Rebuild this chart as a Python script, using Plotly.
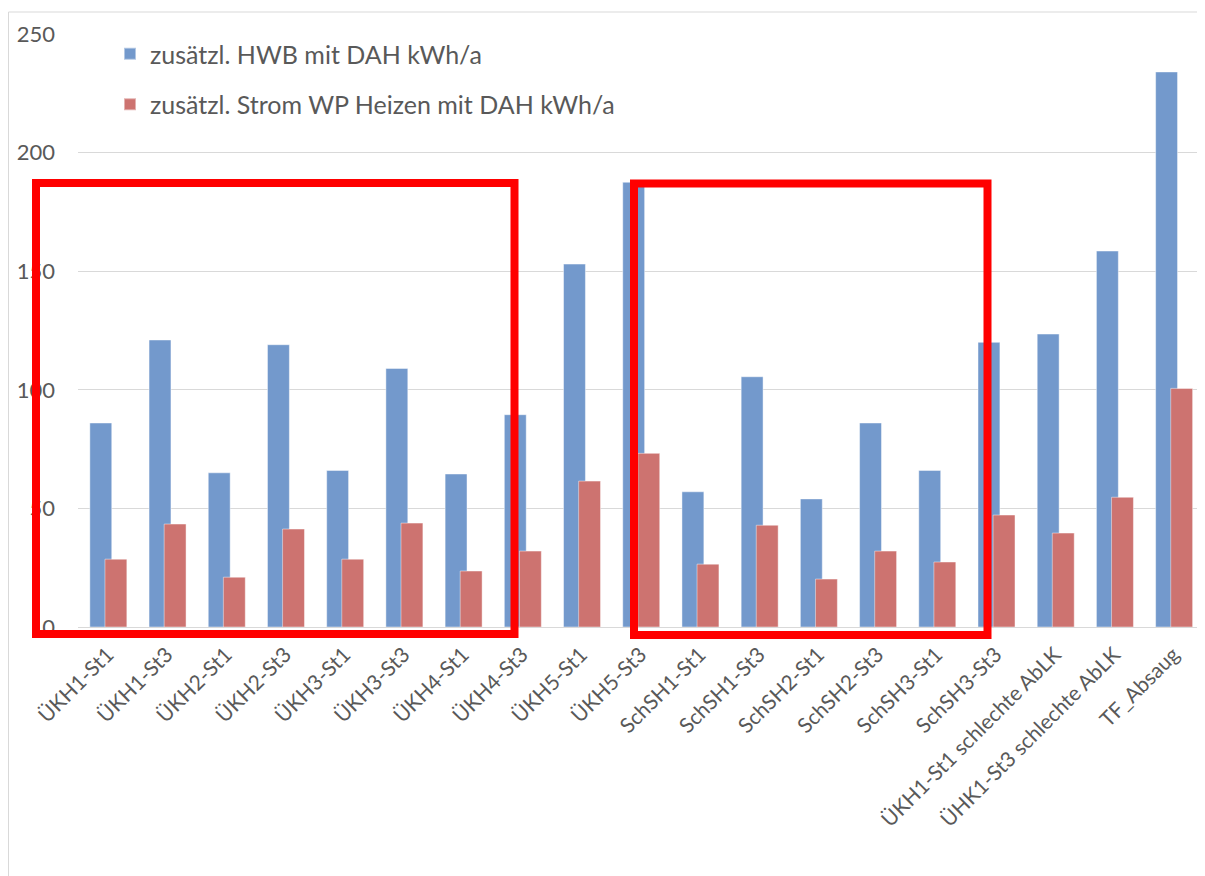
import plotly.graph_objects as go

categories = ["ÜKH1-St1", "ÜKH1-St3", "ÜKH2-St1", "ÜKH2-St3", "ÜKH3-St1", "ÜKH3-St3",
              "ÜKH4-St1", "ÜKH4-St3", "ÜKH5-St1", "ÜKH5-St3", "SchSH1-St1", "SchSH1-St3",
              "SchSH2-St1", "SchSH2-St3", "SchSH3-St1", "SchSH3-St3",
              "ÜKH1-St1 schlechte AbLK", "ÜHK1-St3 schlechte AbLK", "TF_Absaug"]
hwb = [86, 121, 65, 119, 66, 109, 64.5, 89.5, 153, 187.5, 57, 105.5, 54, 86, 66, 120, 123.5, 158.5, 234]
strom = [28.6, 43.4, 21, 41.3, 28.6, 43.8, 23.6, 32, 61.5, 73.2, 26.5, 42.9, 20.2, 32, 27.4, 47.2, 39.6, 54.7, 100.6]

name_hwb = "zusätzl. HWB mit DAH kWh/a"
name_strom = "zusätzl. Strom WP Heizen mit DAH kWh/a"

FONT = "Lato, 'Open Sans', sans-serif"
GREY = "#595959"

fig = go.Figure()
fig.add_trace(go.Bar(x=categories, y=hwb, name=name_hwb, legendgroup="a",
                     marker=dict(color="#7399CC", line=dict(color="rgba(255,255,255,0.45)", width=1)),
                     offset=-0.30, width=0.37))
fig.add_trace(go.Bar(x=categories, y=strom, name=name_strom, legendgroup="b",
                     marker=dict(color="#CD7370", line=dict(color="rgba(255,255,255,0.45)", width=1)),
                     offset=-0.045, width=0.37))

# page body has an 8px margin; size the figure so it ends at the window edge
OFF = 8
W, H = 1205 - OFF, 876 - OFF
ml, mt = 78 - OFF, 34 - OFF
pw, ph = 1125, 593
mr = W - ml - pw
mb = H - mt - ph


def px(x):
    return (x - OFF - ml) / pw


def py(y):
    return (H - mb - (y - OFF)) / ph


shapes = []
# outer chart border (light grey)
shapes.append(dict(type="line", xref="paper", yref="paper", x0=px(8.5), x1=px(8.5), y0=py(12), y1=py(880),
                   line=dict(color="#D9D9D9", width=1)))
shapes.append(dict(type="line", xref="paper", yref="paper", x0=px(8.5), x1=px(1210), y0=py(12), y1=py(12),
                   line=dict(color="#D9D9D9", width=1)))
# red highlight boxes
for (x0, x1, y0, y1) in [(36, 514.5, 183, 634), (634, 987.5, 183.5, 635)]:
    shapes.append(dict(type="rect", xref="paper", yref="paper", x0=px(x0), x1=px(x1), y0=py(y1), y1=py(y0),
                       line=dict(color="#FF0000", width=8), fillcolor="rgba(0,0,0,0)", layer="above"))

fig.update_layout(
    width=W, height=H,
    margin=dict(l=ml, r=mr, t=mt, b=mb),
    paper_bgcolor="white", plot_bgcolor="white",
    barmode="overlay",
    font=dict(family=FONT, color=GREY),
    showlegend=True,
    legend=dict(x=px(110), y=py(31), xanchor="left", yanchor="top",
                font=dict(family=FONT, size=25, color=GREY),
                bgcolor="rgba(0,0,0,0)", tracegroupgap=15, itemsizing="constant"),
    shapes=shapes,
)
fig.update_yaxes(range=[0, 250], dtick=50, showgrid=True, gridcolor="#D9D9D9", gridwidth=1,
                 zeroline=False, showline=False, ticks="", ticklabelstandoff=22,
                 tickfont=dict(family=FONT, size=22, color=GREY))
fig.update_xaxes(showline=True, linecolor="#D9D9D9", linewidth=1, ticks="", tickangle=-45,
                 ticklabelstandoff=6, tickfont=dict(family=FONT, size=21, color=GREY),
                 range=[-0.5, 18.5])

fig.write_html("out.html")
